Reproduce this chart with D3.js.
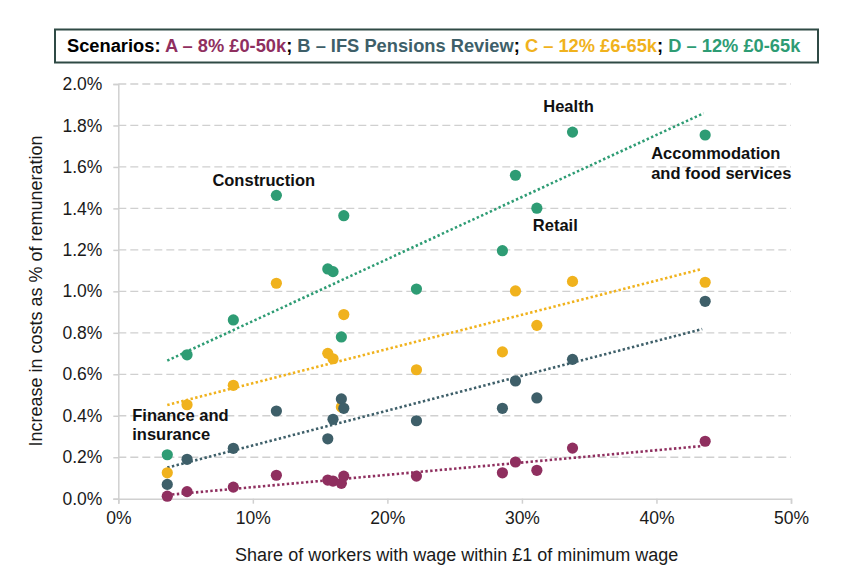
<!DOCTYPE html>
<html><head><meta charset="utf-8">
<script src="https://cdn.jsdelivr.net/npm/d3@7"></script>
<style>body{margin:0;background:#fff}svg{display:block;font-family:"Liberation Sans",Arial,sans-serif}</style>
</head><body><svg id="c" width="848" height="583"></svg>
<script>
// Share of workers within £1 of minimum wage (%) per sector
const xShare = [3.64, 5.11, 8.55, 11.75, 15.57, 15.96, 16.58, 16.76, 22.16, 28.55, 29.52, 31.11, 33.76, 43.62];
// Increase in costs as % of remuneration
const seriesA = [0.012, 0.034, 0.056, 0.113, 0.090, 0.085, 0.074, 0.109, 0.109, 0.125, 0.177, 0.137, 0.244, 0.277];
const seriesB = [0.069, 0.190, 0.243, 0.423, 0.289, 0.383, 0.481, 0.436, 0.376, 0.436, 0.568, 0.486, 0.672, 0.952];
const seriesC = [0.125, 0.453, 0.547, 1.039, 0.701, 0.675, 0.442, 0.888, 0.622, 0.708, 1.002, 0.836, 1.048, 1.044];
const seriesD = [0.212, 0.694, 0.862, 1.463, 1.108, 1.095, 0.780, 1.365, 1.011, 1.196, 1.560, 1.401, 1.768, 1.754];
const seriesNames = ["A", "B", "C", "D"];
const seriesColors = ["#8f2f5f", "#3e5f69", "#f0b21d", "#2e9c74"];
// Trendline endpoints [x, y]
const trendStart = [[3.64, 0.018], [3.64, 0.150], [3.64, 0.452], [3.64, 0.666]];
const trendEnd = [[43.4, 0.254], [43.4, 0.818], [43.4, 1.108], [43.5, 1.859]];
const xTicks = [0, 10, 20, 30, 40, 50];
const yTicks = [0, 0.2, 0.4, 0.6, 0.8, 1.0, 1.2, 1.4, 1.6, 1.8, 2.0];
const sectorLabels = [
  {lines: ["Health"], x: 33.76, y: 1.768},
  {lines: ["Accommodation", "and food services"], x: 43.62, y: 1.754},
  {lines: ["Retail"], x: 31.11, y: 1.401},
  {lines: ["Construction"], x: 11.75, y: 1.463},
  {lines: ["Finance and", "insurance"], x: 3.64, y: 0.212}
];
const labelOffsets = [[-4, -20, "middle"], [-54, 24, "start"], [-4, 23, "start"], [-64, -9, "start"], [-35, -34, "start"]];
const legendParts = [
  {t: "Scenarios: ", c: "#000"},
  {t: "A – 8% £0-50k", c: seriesColors[0]}, {t: "; ", c: "#000"},
  {t: "B – IFS Pensions Review", c: seriesColors[1]}, {t: "; ", c: "#000"},
  {t: "C – 12% £6-65k", c: seriesColors[2]}, {t: "; ", c: "#000"},
  {t: "D – 12% £0-65k", c: seriesColors[3]}
];

const svg = d3.select("#c");
const x = d3.scaleLinear().domain([0, 50]).range([118.3, 791]);
const y = d3.scaleLinear().domain([0, 2]).range([498.7, 84]);

// gridlines
svg.append("g").selectAll("line").data(yTicks.filter(d => d > 0)).join("line")
  .attr("x1", x(0)).attr("x2", x(50)).attr("y1", d => y(d)).attr("y2", d => y(d))
  .attr("stroke", "#d0d0d0").attr("stroke-width", 1.3).attr("stroke-dasharray", "8,4");

// y axis
const yAxis = svg.append("g").attr("transform", `translate(${x(0)},0)`)
  .call(d3.axisLeft(y).tickValues(yTicks).tickFormat(d => d.toFixed(1) + "%").tickSize(5).tickPadding(11));
yAxis.select(".domain").attr("stroke", "#d0d0d0").attr("stroke-width", 1.5);
yAxis.selectAll(".tick line").attr("stroke", "#d0d0d0").attr("stroke-width", 1.5);
yAxis.selectAll("text").attr("font-size", 17.5).attr("fill", "#1a1a1a").attr("font-family", "Liberation Sans, Arial");

// x axis
const xAxis = svg.append("g").attr("transform", `translate(0,${y(0)})`)
  .call(d3.axisBottom(x).tickValues(xTicks).tickFormat(d => d + "%").tickSize(5).tickPadding(8));
xAxis.select(".domain").attr("stroke", "#d0d0d0").attr("stroke-width", 1.5);
xAxis.selectAll(".tick line").attr("stroke", "#d0d0d0").attr("stroke-width", 1.5);
xAxis.selectAll("text").attr("font-size", 17.5).attr("fill", "#1a1a1a").attr("font-family", "Liberation Sans, Arial");

// axis titles
svg.append("text").attr("x", 456.7).attr("y", 561).attr("text-anchor", "middle")
  .attr("font-size", 18).attr("fill", "#1a1a1a").text("Share of workers with wage within £1 of minimum wage");
svg.append("text").attr("transform", "translate(41.5,291) rotate(-90)").attr("text-anchor", "middle")
  .attr("font-size", 18).attr("fill", "#1a1a1a").text("Increase in costs as % of remuneration");

// trendlines
svg.append("g").selectAll("line").data(seriesNames).join("line")
  .attr("x1", (d, i) => x(trendStart[i][0])).attr("y1", (d, i) => y(trendStart[i][1]))
  .attr("x2", (d, i) => x(trendEnd[i][0])).attr("y2", (d, i) => y(trendEnd[i][1]))
  .attr("stroke", (d, i) => seriesColors[i]).attr("stroke-width", 2.6).attr("stroke-dasharray", "2.4,2.4");

// points (draw D, C, B, A)
const allSeries = [seriesA, seriesB, seriesC, seriesD];
[3, 2, 1, 0].forEach(si => {
  svg.append("g").selectAll("circle").data(allSeries[si]).join("circle")
    .attr("cx", (d, i) => x(xShare[i])).attr("cy", d => y(d)).attr("r", 5.6)
    .attr("fill", seriesColors[si]);
});

// sector labels
sectorLabels.forEach((l, i) => {
  const [dx, dy, anchor] = labelOffsets[i];
  const t = svg.append("text").attr("font-size", 16.5).attr("font-weight", "bold").attr("fill", "#111")
    .attr("text-anchor", anchor);
  l.lines.forEach((ln, j) => {
    t.append("tspan").attr("x", x(l.x) + dx).attr("y", y(l.y) + dy + j * 19.5).text(ln);
  });
});

// legend box
svg.append("rect").attr("x", 55).attr("y", 29.5).attr("width", 763).attr("height", 33)
  .attr("fill", "#fff").attr("stroke", "#2f4a45").attr("stroke-width", 2);
const lt = svg.append("text").attr("x", 67).attr("y", 52).attr("font-size", 18.3).attr("font-weight", "bold");
legendParts.forEach(p => lt.append("tspan").attr("fill", p.c).text(p.t));
</script></body></html>
